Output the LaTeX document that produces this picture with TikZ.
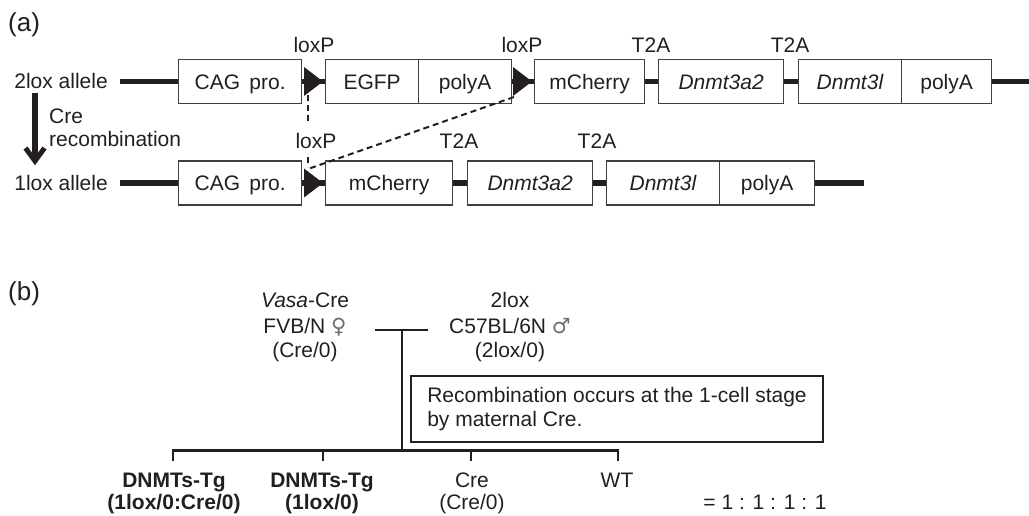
\documentclass[tikz,border=0pt]{standalone}
\usepackage{fontspec}
\setmainfont{Liberation Sans}
\newfontfamily\symfont{DejaVu Sans}
\usetikzlibrary{arrows.meta}
\definecolor{ink}{HTML}{231F20}
\definecolor{boxline}{HTML}{404040}
\begin{document}
\begin{tikzpicture}[x=1pt,y=-1pt,
  every node/.style={inner sep=0pt, text=ink, font=\fontsize{21}{25}\selectfont},
  gene/.style={draw=boxline, line width=1.3pt, fill=white, minimum height=44pt, anchor=west, text height=19pt, text depth=3pt},
  backbone/.style={draw=ink, line width=5.8pt},
  loxsite/.style={fill=ink},
  cutline/.style={draw=ink, line width=2pt, dash pattern=on 6pt off 4pt},
  site/.style={anchor=base},
  boldlbl/.style={anchor=base, font=\fontsize{21}{25}\selectfont\bfseries},
  pedline/.style={draw=ink, line width=2.6pt},
  panel/.style={anchor=base west, font=\fontsize{26}{30}\selectfont}]
\useasboundingbox (0,0) rectangle (1029,516);

% ---------- (a) ----------
\node[panel] (pa) at (8,32) {(a)};

% row 1: 2lox allele
\node[anchor=base east] (allele2) at (108,89) {2lox allele};
\coordinate (b1s) at (120,81.5);
\coordinate (b1e) at (1029,81.5);
\draw[backbone] (b1s) -- (b1e);
\node[gene, minimum width=123pt] (cag1) at (178,81.5) {CAG\hspace{3.5pt} pro.};
\node[gene, minimum width=93pt] (egfp) at (325,81.5) {EGFP};
\node[gene, minimum width=93pt] (pa1) at (418,81.5) {polyA};
\node[gene, minimum width=110pt] (mch1) at (534,81.5) {mCherry};
\node[gene, minimum width=125pt] (dna1) at (658,81.5) {\textit{Dnmt3a2}};
\node[gene, minimum width=103pt] (dnl1) at (798,81.5) {\textit{Dnmt3l}};
\node[gene, minimum width=90pt] (pb1) at (901,81.5) {polyA};
\fill[loxsite] (304,67) -- (323,81.5) -- (304,96) -- cycle;
\fill[loxsite] (513,67) -- (532,81.5) -- (513,96) -- cycle;
\node[site] (lx1) at (314,52.5) {loxP};
\node[site] (lx2) at (522,52.5) {loxP};
\node[site] (t2a1) at (651,52.5) {T2A};
\node[site] (t2a2) at (790,52.5) {T2A};

% recombination arrow
\coordinate (arS) at (35,93);
\coordinate (arE) at (35,161);
\coordinate (arL) at (25.5,148);
\coordinate (arR) at (44.5,148);
\draw[draw=ink, line width=5.5pt] (arS) -- (arE);
\draw[draw=ink, line width=5pt, line join=miter, miter limit=10] (arL) -- (arE) -- (arR);
\node[anchor=base west] (cre) at (49,124) {Cre};
\node[anchor=base west] (recomb) at (49,147) {recombination};

% row 2: 1lox allele
\node[anchor=base east] (allele1) at (108,190.5) {1lox allele};
\coordinate (b2s) at (120,183);
\coordinate (b2e) at (864,183);
\draw[backbone] (b2s) -- (b2e);
\node[gene, minimum width=123pt] (cag2) at (178,183) {CAG\hspace{3.5pt} pro.};
\node[gene, minimum width=127pt] (mch2) at (325,183) {mCherry};
\node[gene, minimum width=125pt] (dna2) at (467,183) {\textit{Dnmt3a2}};
\node[gene, minimum width=113pt] (dnl2) at (606,183) {\textit{Dnmt3l}};
\node[gene, minimum width=95pt] (pa2) at (719,183) {polyA};
\fill[loxsite] (304,168.5) -- (323,183) -- (304,197.5) -- cycle;
\node[site] (lx3) at (316,149) {loxP};
\node[site] (t2a3) at (459,149) {T2A};
\node[site] (t2a4) at (597,149) {T2A};

% dashed recombination guides
\coordinate (d1a) at (308,95);
\coordinate (d1b) at (308,121);
\coordinate (d2a) at (308,157);
\coordinate (d2b) at (308,167);
\coordinate (d3a) at (514,97);
\coordinate (d3b) at (308,169);
\draw[cutline] (d1a) -- (d1b);
\draw[cutline] (d2a) -- (d2b);
\draw[cutline] (d3a) -- (d3b);

% ---------- (b) ----------
\node[panel] (pb) at (8,300) {(b)};
\node[site] (m1) at (305,307) {\textit{Vasa}-Cre};
\node[site] (m2) at (305,333) {FVB/N {\symfont\color{ink!65}♀}};
\node[site] (m3) at (305,357) {(Cre/0)};
\node[site] (f1) at (510,307) {2lox};
\node[site] (f2) at (510,333) {C57BL/6N {\symfont\color{ink!65}♂}};
\node[site] (f3) at (510,357) {(2lox/0)};

\coordinate (mateL) at (375,330);
\coordinate (mateR) at (428,330);
\coordinate (mateC) at (402,330);
\coordinate (sibC) at (402,450.5);
\coordinate (sibL) at (173,450.5);
\coordinate (sibR) at (618,450.5);
\coordinate (k1) at (173,461);
\coordinate (k2) at (323,461);
\coordinate (k3) at (471,461);
\coordinate (k4) at (618,461);
\coordinate (j2) at (323,450.5);
\coordinate (j3) at (471,450.5);
\draw[pedline] (mateL) -- (mateR);
\draw[pedline] (mateC) -- (sibC);
\draw[pedline, line join=miter] (k1) -- (sibL) -- (sibR) -- (k4);
\draw[pedline] (j2) -- (k2);
\draw[pedline] (j3) -- (k3);

\node[draw=ink, line width=2pt, minimum width=412pt, minimum height=66pt, align=left, anchor=north west, font=\fontsize{21}{24}\selectfont] (note) at (410,375) {Recombination occurs at the 1-cell stage\\by maternal Cre.};

\node[boldlbl] (o1a) at (174,487) {DNMTs-Tg};
\node[boldlbl] (o1b) at (174,509) {(1lox/0:Cre/0)};
\node[boldlbl] (o2a) at (322,487) {DNMTs-Tg};
\node[boldlbl] (o2b) at (322,509) {(1lox/0)};
\node[site] (o3a) at (472,487) {Cre};
\node[site] (o3b) at (472,509) {(Cre/0)};
\node[site] (o4a) at (617,487) {WT};
\node[site] (ratio) at (765,509) {= 1 : 1 : 1 : 1};
\end{tikzpicture}
\end{document}
